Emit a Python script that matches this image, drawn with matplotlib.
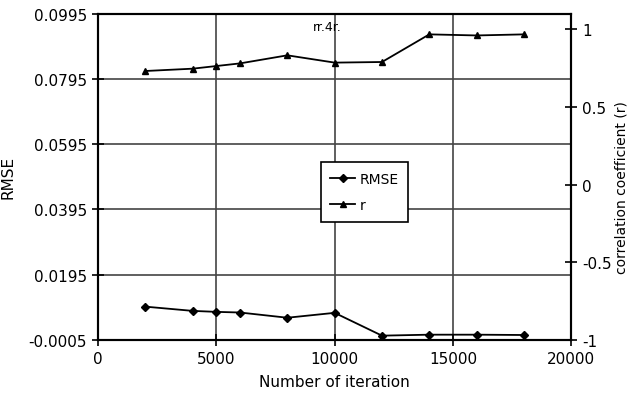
import matplotlib
matplotlib.use('Agg')
import matplotlib.pyplot as plt

plt.rcParams['font.family'] = ['Liberation Sans Narrow', 'DejaVu Sans']

# Iterations and the two series
iterations = [2000, 4000, 5000, 6000, 8000, 10000, 12000, 14000, 16000, 18000]
rmse = [0.0097, 0.0084, 0.0081, 0.0079, 0.0063, 0.0078, 0.0008, 0.0011, 0.0011, 0.0010]
r_vals = [0.732, 0.747, 0.764, 0.781, 0.833, 0.786, 0.790, 0.968, 0.961, 0.968]

left_ticks = [-0.0005, 0.0195, 0.0395, 0.0595, 0.0795, 0.0995]
right_ticks = [-1, -0.5, 0, 0.5, 1]
right_labels = ['-1', '-0.5', '0', '0.5', '1']
x_ticks = [0, 5000, 10000, 15000, 20000]

fig = plt.figure(figsize=(6.32, 4.02), dpi=100)
ax = fig.add_axes([0.155, 0.152, 0.749, 0.811])
ax2 = ax.twinx()

l1, = ax.plot(iterations, rmse, color='black', lw=1.3, marker='D', ms=4)
l2, = ax2.plot(iterations, r_vals, color='black', lw=1.3, marker='^', ms=5)

ax.set_xlim(0, 20000)
ax.set_ylim(-0.0005, 0.0995)
ax2.set_ylim(-1, 1.1)
ax.set_xticks(x_ticks)
ax.set_yticks(left_ticks)
ax.set_yticklabels([f'{v:.4f}' for v in left_ticks])
ax2.set_yticks(right_ticks)
ax2.set_yticklabels(right_labels)
ax.grid(True, color='#444444', lw=1.2)

for a in (ax, ax2):
    for s in a.spines.values():
        s.set_color('black')
        s.set_linewidth(1.5)
ax.tick_params(axis='both', direction='inout', length=8, width=1.2, labelsize=11, pad=4)
ax2.tick_params(axis='y', direction='inout', length=8, width=1.2, labelsize=11, pad=4)

ax.set_xlabel('Number of iteration', fontsize=11, labelpad=6)
ax.set_ylabel('RMSE', fontsize=11)
ax.yaxis.set_label_coords(-0.175, 0.5)
ax2.set_ylabel('correlation coefficient (r)', fontsize=10, rotation=90)
ax2.yaxis.set_label_coords(1.092, 0.47)

ax.text(9700, 0.0975, 'rr.4r.', fontsize=9, ha='center', va='top')

leg = ax2.legend([l1, l2], ['RMSE', 'r'], loc='center', bbox_to_anchor=(0.563, 0.454),
                 fancybox=False, framealpha=1, edgecolor='black', fontsize=10,
                 handlelength=1.8, borderpad=0.7, labelspacing=0.9, handletextpad=0.3)
leg.get_frame().set_linewidth(1.2)

fig.savefig('out.png', dpi=100)
